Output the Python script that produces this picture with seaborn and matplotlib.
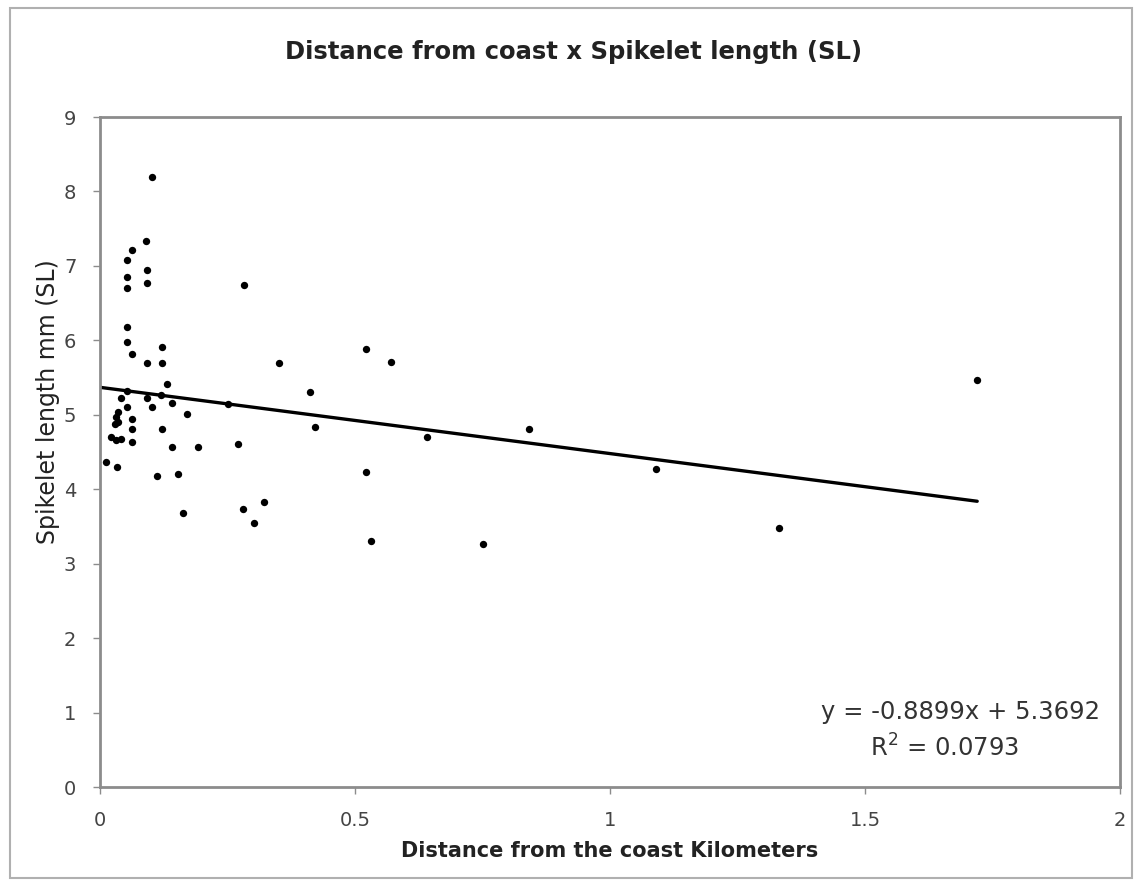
import matplotlib
matplotlib.use("Agg")
import numpy as np
import pandas as pd
import seaborn as sns
from matplotlib import pyplot as plt
from matplotlib.patches import Rectangle

# values
distance_km = [
    0.102, 0.090, 0.063, 0.053, 0.092, 0.053, 0.092, 0.053, 0.282, 0.053,
    0.053, 0.122, 0.063, 0.092, 0.122, 0.351, 0.131, 0.412, 0.041, 0.092,
    0.120, 0.053, 0.102, 0.141, 0.251, 0.035, 0.031, 0.035, 0.029, 0.063,
    0.063, 0.122, 0.171, 0.422, 0.022, 0.031, 0.041, 0.063, 0.141, 0.192,
    0.271, 0.012, 0.033, 0.112, 0.153, 0.163, 0.280, 0.322, 0.302, 0.053,
    0.521, 0.571, 0.521, 0.531, 0.641, 0.751, 0.841, 1.090, 1.331, 1.720,
]
spikelet_mm = [
    8.19, 7.33, 7.22, 7.08, 6.95, 6.85, 6.77, 6.71, 6.75, 6.18,
    5.98, 5.91, 5.82, 5.69, 5.69, 5.69, 5.42, 5.31, 5.22, 5.22,
    5.27, 5.11, 5.11, 5.16, 5.15, 5.04, 4.97, 4.91, 4.87, 4.95,
    4.81, 4.81, 5.01, 4.84, 4.70, 4.66, 4.67, 4.64, 4.57, 4.57,
    4.61, 4.37, 4.30, 4.18, 4.21, 3.68, 3.74, 3.83, 3.55, 5.32,
    5.89, 5.71, 4.23, 3.31, 4.70, 3.27, 4.81, 4.27, 3.48, 5.47,
]
slope = -0.8899
intercept = 5.3692
r_squared = 0.0793

x_ticks = [0, 0.5, 1, 1.5, 2]
x_tick_labels = ["0", "0.5", "1", "1.5", "2"]
y_ticks = list(range(0, 10))

df = pd.DataFrame({"dist": distance_km, "sl": spikelet_mm})
trend_x = np.array([0, max(distance_km)])
trend = pd.DataFrame({"dist": trend_x, "sl": slope * trend_x + intercept})

sns.set_style("white")
plt.rcParams["font.family"] = ["DejaVu Sans"]

fig = plt.figure(figsize=(11.41, 8.82), dpi=100)
ax = fig.add_axes([0.0876, 0.1077, 0.8940, 0.7596])

sns.scatterplot(data=df, x="dist", y="sl", ax=ax, color="black", s=28,
                edgecolor="black", linewidth=0, zorder=3)
sns.lineplot(data=trend, x="dist", y="sl", ax=ax, color="black", linewidth=2.4, zorder=2)

ax.set_xlim(0, 2)
ax.set_ylim(0, 9)
ax.set_xticks(x_ticks)
ax.set_xticklabels(x_tick_labels)
ax.set_yticks(y_ticks)

for sp in ax.spines.values():
    sp.set_color("#8c8c8c")
    sp.set_linewidth(2)
ax.tick_params(axis="both", which="both", direction="out", length=5, width=1,
               color="#8c8c8c", labelcolor="#444444", labelsize=14,
               bottom=True, left=True)
ax.tick_params(axis="x", pad=12)
ax.tick_params(axis="y", pad=12)

ax.set_xlabel("Distance from the coast Kilometers", fontsize=15, fontweight="bold",
              color="#222222")
ax.xaxis.set_label_coords(0.5, -54 / 670)
ax.set_ylabel("Spikelet length mm (SL)", fontsize=17, color="#222222")
ax.yaxis.set_label_coords(-40 / 1020, (787 - 402) / 670)
fig.text(574 / 1141, 1 - 52 / 882, "Distance from coast x Spikelet length (SL)",
         fontsize=17.5, fontweight="bold", color="#222222", ha="center", va="center")

ax.text(0.98, (787 - 712) / 670, f"y = {slope}x + {intercept}", transform=ax.transAxes,
        ha="right", va="center", fontsize=17.5, color="#333333")
ax.text(0.828, (787 - 748) / 670, f"R$^2$ = {r_squared}", transform=ax.transAxes,
        ha="center", va="center", fontsize=17.5, color="#333333")

# outer chart-area frame
fig.patches.append(Rectangle((10 / 1141, 4 / 882), 1122 / 1141, 870 / 882,
                             transform=fig.transFigure, fill=False,
                             edgecolor="#b0b0b0", linewidth=1.5))

fig.savefig("out.png", dpi=100)
